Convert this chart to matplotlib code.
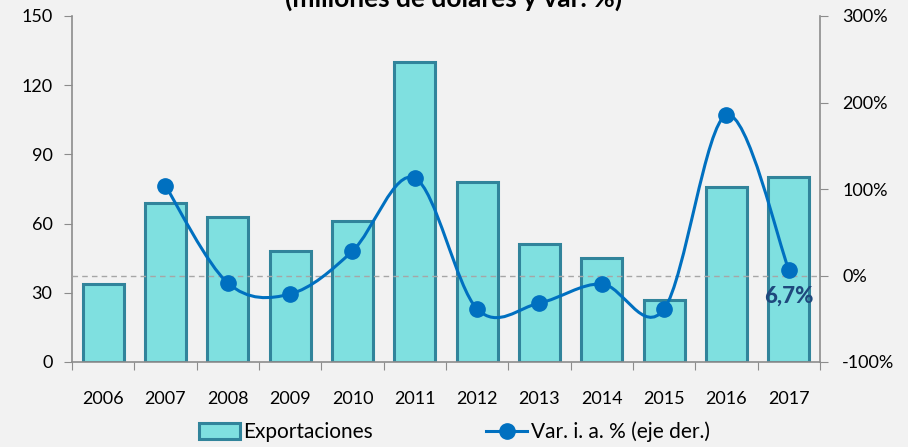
import matplotlib.pyplot as plt
import numpy as np
from matplotlib.path import Path
from matplotlib.patches import PathPatch, Patch
from matplotlib.lines import Line2D

plt.rcParams['font.family'] = ['Lato', 'DejaVu Sans']

years = ['2006', '2007', '2008', '2009', '2010', '2011',
         '2012', '2013', '2014', '2015', '2016', '2017']
exportaciones = [34, 69, 63, 48, 61, 130, 78, 51, 45, 27, 76, 80]
var_ia = [np.nan, 103.5, -8.7, -21.4, 28.3, 112.7, -38.7, -31.8, -9.8, -38.7, 185.5, 6.7]
last_label = '6,7%'

bar_face = '#7FE0E0'
bar_edge = '#31849B'
line_col = '#0070C0'
axis_col = '#8C8C8C'
bg = '#F2F2F2'


def smooth_path(xs, ys):
    # excel-style smoothed line: catmull-rom segments as cubic beziers
    pts = np.column_stack([xs, ys])
    n = len(pts)
    verts = [pts[0]]
    codes = [Path.MOVETO]
    for i in range(n - 1):
        p0 = pts[i - 1] if i > 0 else pts[i]
        p1 = pts[i]
        p2 = pts[i + 1]
        p3 = pts[i + 2] if i + 2 < n else pts[i + 1]
        c1 = p1 + (p2 - p0) / 6.0
        c2 = p2 - (p3 - p1) / 6.0
        verts += [c1, c2, p2]
        codes += [Path.CURVE4] * 3
    return Path(verts, codes)


fig = plt.figure(figsize=(9.08, 4.47), dpi=100, facecolor=bg)
ax = fig.add_axes([72 / 908, 1 - 362 / 447, (820 - 72) / 908, (362 - 16) / 447])
ax.set_facecolor('none')

x = np.arange(len(years))
ax.bar(x, exportaciones, width=0.66, color=bar_face, edgecolor=bar_edge,
       linewidth=2.2, zorder=2)
ax.set_xlim(-0.5, len(years) - 0.5)
ax.set_ylim(0, 150)
ax.set_yticks(np.arange(0, 151, 30))

# category boundary ticks below the axis
ax.set_xticks(np.arange(-0.5, len(years), 1.0))
ax.set_xticklabels([])
ax.set_xticks(x, minor=True)
ax.set_xticklabels(years, minor=True)
ax.tick_params(axis='x', which='major', direction='out', length=6, color=axis_col)
ax.tick_params(axis='x', which='minor', length=0, pad=21, labelsize=13)
ax.tick_params(axis='y', direction='out', length=6, color=axis_col, labelsize=13, pad=8)

for s in ['top', 'right']:
    ax.spines[s].set_visible(False)
for s in ['left', 'bottom']:
    ax.spines[s].set_color(axis_col)
    ax.spines[s].set_linewidth(1.2)

ax2 = ax.twinx()
ax2.set_ylim(-100, 300)
ax2.set_yticks(np.arange(-100, 301, 100))
ax2.set_yticklabels([f'{v}%' for v in range(-100, 301, 100)])
ax2.tick_params(axis='y', direction='out', length=6, color=axis_col, labelsize=13, pad=10)
for s in ['top', 'left', 'bottom']:
    ax2.spines[s].set_visible(False)
ax2.spines['right'].set_color(axis_col)
ax2.spines['right'].set_linewidth(1.2)

ax2.axhline(0, color='#A6A6A6', linestyle=(0, (4, 3)), linewidth=1.0, zorder=1)

lx = x[1:]
ly = np.array(var_ia[1:])
ax2.add_patch(PathPatch(smooth_path(lx, ly), facecolor='none', edgecolor=line_col,
                        linewidth=2.2, zorder=3))
ax2.plot(lx, ly, linestyle='none', marker='o', markersize=11,
         color=line_col, zorder=4)

ax2.annotate(last_label, (lx[-1], ly[-1]), xytext=(0, -19), textcoords='offset points',
             ha='center', va='center', fontsize=16, fontweight='black', color='#1F497D')

fig.text(0.5, 1 - 7 / 447, '(millones de dólares y var. %)', ha='center',
         va='baseline', fontsize=19, fontweight='bold')

h1 = Patch(facecolor=bar_face, edgecolor=bar_edge, linewidth=2.2)
h2 = Line2D([], [], color=line_col, linewidth=2.2, marker='o', markersize=11)
leg1 = fig.legend([h1], ['Exportaciones'], loc='center left',
                  bbox_to_anchor=(180 / 908, 1 - 432 / 447), frameon=False,
                  fontsize=15, handlelength=2.0, handleheight=0.8, handletextpad=0.15)
leg2 = fig.legend([h2], ['Var. i. a. % (eje der.)'], loc='center left',
                  bbox_to_anchor=(467 / 908, 1 - 432 / 447), frameon=False,
                  fontsize=15, handlelength=2.0, handletextpad=0.15)

fig.savefig('out.png', dpi=100, facecolor=bg)
